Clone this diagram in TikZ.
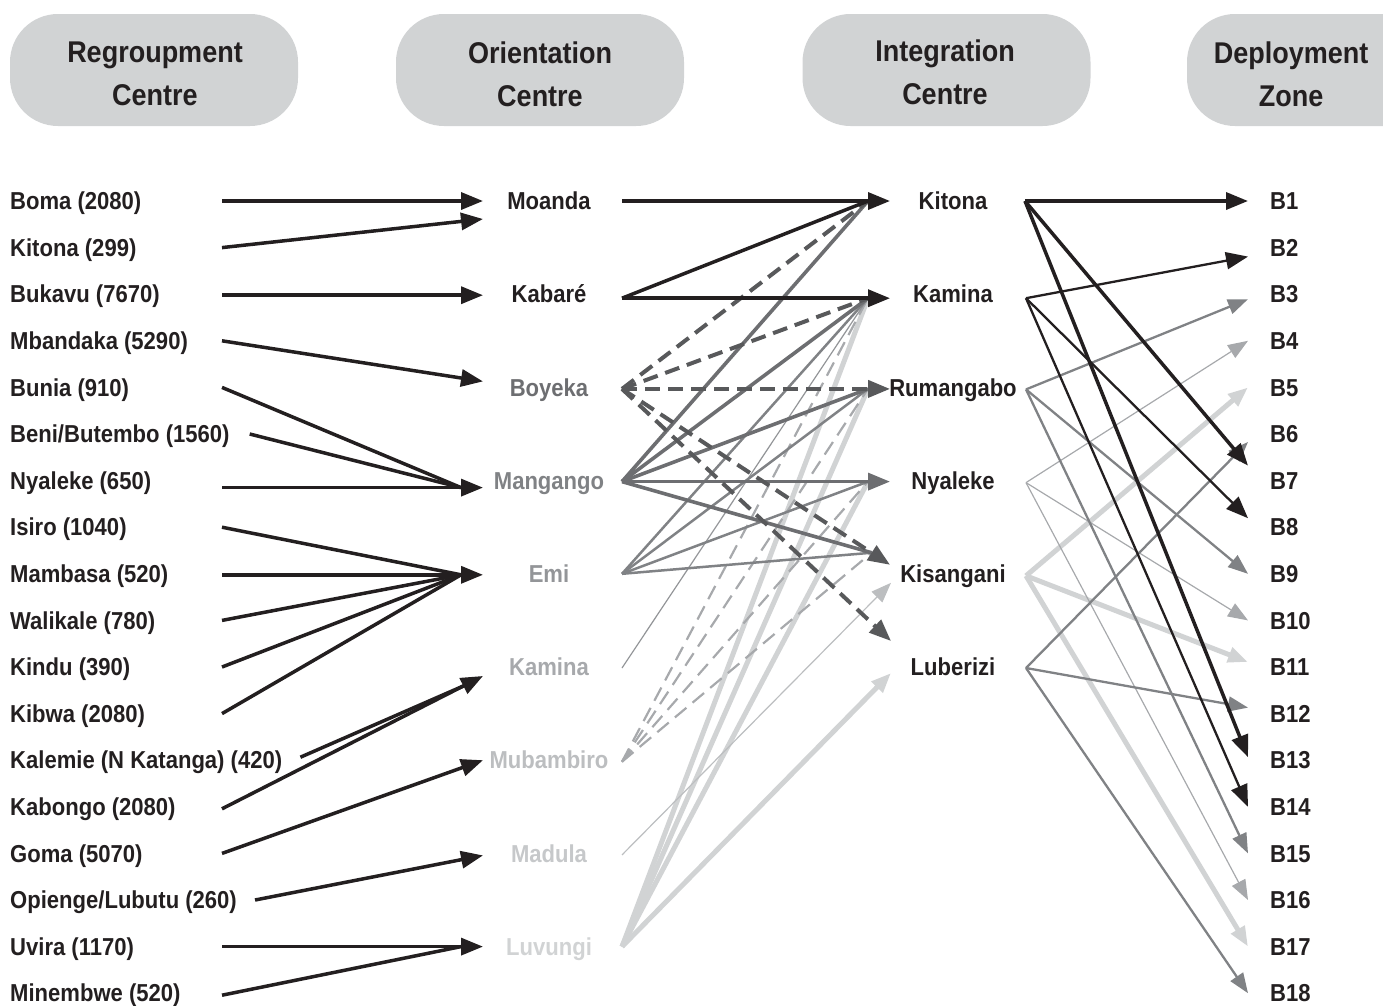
\documentclass[tikz,border=0pt]{standalone}
\usepackage{fontspec}
\setmainfont{Liberation Sans}[FakeStretch=0.9]
\usetikzlibrary{arrows.meta,calc}
\definecolor{ink}{HTML}{231F20}
\definecolor{g1}{HTML}{58595B}
\definecolor{g2}{HTML}{6D6E71}
\definecolor{g3}{HTML}{808285}
\definecolor{g4}{HTML}{939598}
\definecolor{g5}{HTML}{A7A9AC}
\definecolor{g6}{HTML}{BCBEC0}
\definecolor{g65}{HTML}{C6C8CA}
\definecolor{g7}{HTML}{D1D3D4}
\definecolor{hdrfill}{HTML}{D1D3D4}
\begin{document}
\begin{tikzpicture}[x=1pt,y=-1pt,
  lbl/.style={font=\fontsize{24.5}{28}\selectfont\bfseries, inner sep=0pt, text height=17.5pt, text depth=0pt, text=ink},
  hdrbox/.style={fill=hdrfill, rounded corners=48pt, minimum width=288pt, minimum height=112pt, inner sep=0pt},
  hdrtext/.style={font=\fontsize{30}{43}\selectfont\bfseries, align=center, text=ink, inner sep=0pt},
  tipL/.style={-{Triangle[length=22pt,width=17pt]}},
  tipS/.style={-{Triangle[length=20pt,width=15pt]}},
  lBlack/.style={draw=ink, line width=3.5pt},
  lBlackT/.style={draw=ink, line width=2.3pt},
  lBoy/.style={draw=g1, line width=4pt, dash pattern=on 15pt off 8pt},
  lMan/.style={draw=g2, line width=3.6pt},
  lEmi/.style={draw=g3, line width=2.5pt},
  lKam/.style={draw=g4, line width=1.2pt},
  lMub/.style={draw=g5, line width=2.2pt, dash pattern=on 15pt off 8pt},
  lMad/.style={draw=g6, line width=1.2pt},
  lLuv/.style={draw=g7, line width=5pt},
  lRum/.style={draw=g3, line width=2.3pt},
  lNya/.style={draw=g5, line width=1.2pt},
  lKis/.style={draw=g7, line width=5pt},
  lLub/.style={draw=g3, line width=2.3pt}
]
\useasboundingbox (0,0) rectangle (1383,1005);

% ---------- headers
\node[hdrbox] (h1) at (154,70) {};
\node[hdrtext] (h1t) at (155,74) {Regroupment\\Centre};
\node[hdrbox] (h2) at (540,70) {};
\node[hdrtext] (h2t) at (540,74) {Orientation\\Centre};
\node[hdrbox] (h3) at (946.5,70) {};
\node[hdrtext] (h3t) at (945,72) {Integration\\Centre};
\node[hdrbox] (h4) at (1331,70) {};
\node[hdrtext] (h4t) at (1291,74) {Deployment\\Zone};

% ---------- column 1
\node[lbl, anchor=west] (boma)     at (10,201)   {Boma (2080)};
\node[lbl, anchor=west] (kitonaR)  at (10,247.6) {Kitona (299)};
\node[lbl, anchor=west] (bukavu)   at (10,294.2) {Bukavu (7670)};
\node[lbl, anchor=west] (mbandaka) at (10,340.8) {Mbandaka (5290)};
\node[lbl, anchor=west] (bunia)    at (10,387.4) {Bunia (910)};
\node[lbl, anchor=west] (beni)     at (10,434)   {Beni/Butembo (1560)};
\node[lbl, anchor=west] (nyalekeR) at (10,480.6) {Nyaleke (650)};
\node[lbl, anchor=west] (isiro)    at (10,527.2) {Isiro (1040)};
\node[lbl, anchor=west] (mambasa)  at (10,573.8) {Mambasa (520)};
\node[lbl, anchor=west] (walikale) at (10,620.4) {Walikale (780)};
\node[lbl, anchor=west] (kindu)    at (10,667)   {Kindu (390)};
\node[lbl, anchor=west] (kibwa)    at (10,713.6) {Kibwa (2080)};
\node[lbl, anchor=west] (kalemie)  at (10,760.2) {Kalemie (N Katanga) (420)};
\node[lbl, anchor=west] (kabongo)  at (10,806.8) {Kabongo (2080)};
\node[lbl, anchor=west] (goma)     at (10,853.4) {Goma (5070)};
\node[lbl, anchor=west] (opienge)  at (10,900)   {Opienge/Lubutu (260)};
\node[lbl, anchor=west] (uvira)    at (10,946.6) {Uvira (1170)};
\node[lbl, anchor=west] (minembwe) at (10,993.2) {Minembwe (520)};

% ---------- column 2
\node[lbl]          (moanda)    at (549,201)   {Moanda};
\node[lbl]          (kabare)    at (549,294.2) {Kabaré};
\node[lbl, text=g2] (boyeka)    at (549,387.4) {Boyeka};
\node[lbl, text=g3] (mangango)  at (549,480.6) {Mangango};
\node[lbl, text=g4] (emi)       at (549,573.8) {Emi};
\node[lbl, text=g5] (kamina2)   at (549,667)   {Kamina};
\node[lbl, text=g6] (mubambiro) at (549,760.2) {Mubambiro};
\node[lbl, text=g65](madula)    at (549,853.4) {Madula};
\node[lbl, text=g7] (luvungi)   at (549,946.6) {Luvungi};

% ---------- column 3
\node[lbl] (kitona3)    at (953,201)   {Kitona};
\node[lbl] (kamina3)    at (953,294.2) {Kamina};
\node[lbl] (rumangabo3) at (953,387.4) {Rumangabo};
\node[lbl] (nyaleke3)   at (953,480.6) {Nyaleke};
\node[lbl] (kisangani3) at (953,573.8) {Kisangani};
\node[lbl] (luberizi3)  at (953,667)   {Luberizi};

% ---------- column 4
\foreach \i in {1,...,18}{
  \node[lbl, anchor=west] (b\i) at (1270,{201+46.6*(\i-1)}) {B\i};
}

% ---------- column 1 -> column 2
\coordinate (moIn)  at ([xshift=-66pt]moanda.center);
\coordinate (moIn2) at ([xshift=-66pt,yshift=-18pt]moanda.center);
\coordinate (kaIn)  at ([xshift=-66pt,yshift=-1pt]kabare.center);
\coordinate (boIn)  at ([xshift=-66pt,yshift=6pt]boyeka.center);
\coordinate (maIn)  at ([xshift=-66pt,yshift=-7pt]mangango.center);
\coordinate (maHub) at ([xshift=-88pt,yshift=-7pt]mangango.center);
\coordinate (emIn)  at ([xshift=-66pt,yshift=-1pt]emi.center);
\coordinate (emHub) at ([xshift=-88pt,yshift=-1pt]emi.center);
\coordinate (kmIn)  at ([xshift=-66pt,yshift=-9pt]kamina2.center);
\coordinate (kabS)  at ([xshift=212pt,yshift=-2pt]kabongo.west);
\coordinate (kmHub) at ($(kmIn)!22pt!(kabS)$);
\coordinate (muIn)  at ([xshift=-66pt]mubambiro.center);
\coordinate (mdIn)  at ([xshift=-66pt,yshift=-2pt]madula.center);
\coordinate (luIn)  at ([xshift=-66pt]luvungi.center);
\coordinate (luHub) at ([xshift=-88pt]luvungi.center);

\draw[lBlack, tipL] ([xshift=212pt]boma.west) -- (moIn);
\draw[lBlack, tipL] ([xshift=212pt]kitonaR.west) -- (moIn2);
\draw[lBlack, tipL] ([xshift=212pt,yshift=-1pt]bukavu.west) -- (kaIn);
\draw[lBlack, tipL] ([xshift=212pt]mbandaka.west) -- (boIn);
\draw[lBlack] ([xshift=212pt]bunia.west) -- (maHub);
\draw[lBlack] ([xshift=20pt]beni.east) -- (maHub);
\draw[lBlack, tipL] ([xshift=212pt,yshift=-7pt]nyalekeR.west) -- (maIn);
\draw[lBlack] ([xshift=212pt]isiro.west) -- (emHub);
\draw[lBlack, tipL] ([xshift=212pt,yshift=-1pt]mambasa.west) -- (emIn);
\draw[lBlack] ([xshift=212pt]walikale.west) -- (emHub);
\draw[lBlack] ([xshift=212pt]kindu.west) -- (emHub);
\draw[lBlack] ([xshift=212pt]kibwa.west) -- (emHub);
\draw[lBlack] ([xshift=18pt,yshift=3pt]kalemie.east) -- (kmHub);
\draw[lBlack, tipL] (kabS) -- (kmIn);
\draw[lBlack, tipL] ([xshift=212pt]goma.west) -- (muIn);
\draw[lBlack, tipL] ([xshift=18pt]opienge.east) -- (mdIn);
\draw[lBlack, tipL] ([xshift=212pt]uvira.west) -- (luIn);
\draw[lBlack] ([xshift=212pt,yshift=-2pt]minembwe.west) -- (luHub);

% ---------- column 2 -> column 3
\coordinate (moaOut) at ([xshift=73pt]moanda.center);
\coordinate (kabOut) at ([xshift=73pt,yshift=-4pt]kabare.center);
\coordinate (boyOut) at ([xshift=73pt,yshift=-1.5pt]boyeka.center);
\coordinate (manOut) at ([xshift=73pt,yshift=-1pt]mangango.center);
\coordinate (emiOut) at ([xshift=73pt]emi.center);
\coordinate (kamOut) at ([xshift=73pt,yshift=-1pt]kamina2.center);
\coordinate (mubOut) at ([xshift=73pt,yshift=-1.5pt]mubambiro.center);
\coordinate (madOut) at ([xshift=73pt,yshift=-1.5pt]madula.center);
\coordinate (luvOut) at ([xshift=73pt]luvungi.center);

\coordinate (kitIn)  at ([xshift=-63pt]kitona3.center);
\coordinate (kitHub) at ([xshift=-85pt]kitona3.center);
\coordinate (kamIn)  at ([xshift=-63pt,yshift=-4pt]kamina3.center);
\coordinate (kamHub) at ([xshift=-85pt,yshift=-4pt]kamina3.center);
\coordinate (rumIn)  at ([xshift=-63pt,yshift=-1.5pt]rumangabo3.center);
\coordinate (rumHub) at ([xshift=-85pt,yshift=-1.5pt]rumangabo3.center);
\coordinate (nyaIn)  at ([xshift=-63pt,yshift=-1pt]nyaleke3.center);
\coordinate (nyaHub) at ([xshift=-85pt,yshift=-1pt]nyaleke3.center);
\coordinate (kisIn)  at ([xshift=-63pt,yshift=9pt]kisangani3.center);
\coordinate (kisHub) at ($(kisIn)!22pt!(boyOut)$);
\coordinate (kisIn2) at ([xshift=-62pt,yshift=-9pt]kisangani3.center);
\coordinate (lubIn)  at ([xshift=-62pt,yshift=26pt]luberizi3.center);
\coordinate (lubIn2) at ([xshift=-62pt,yshift=-6pt]luberizi3.center);

\draw[lLuv] (luvOut) -- (kamHub);
\draw[lLuv] (luvOut) -- (rumHub);
\draw[lLuv] (luvOut) -- (nyaHub);
\draw[lLuv, tipS] (luvOut) -- (lubIn2);
\draw[lMad, tipS] (madOut) -- (kisIn2);
\draw[lMub] (mubOut) -- (kamHub);
\draw[lMub] (mubOut) -- (rumHub);
\draw[lMub] (mubOut) -- (nyaHub);
\draw[lMub] (mubOut) -- (kisHub);
\draw[lKam] (kamOut) -- (kamHub);
\draw[lEmi] (emiOut) -- (kamHub);
\draw[lEmi] (emiOut) -- (rumHub);
\draw[lEmi] (emiOut) -- (nyaHub);
\draw[lEmi] (emiOut) -- (kisHub);
\draw[lMan] (manOut) -- (kitHub);
\draw[lMan] (manOut) -- (kamHub);
\draw[lMan] (manOut) -- (rumHub);
\draw[lMan] (manOut) -- (kisHub);
\draw[lMan, tipL] (manOut) -- (nyaIn);
\draw[lBoy] (boyOut) -- (kitHub);
\draw[lBoy] (boyOut) -- (kamHub);
\draw[lBoy, tipL] (boyOut) -- (rumIn);
\draw[lBoy, tipL] (boyOut) -- (kisIn);
\draw[lBoy, tipL] (boyOut) -- (lubIn);
\draw[lBlack] (kabOut) -- (kitHub);
\draw[lBlack, tipL] (kabOut) -- (kamIn);
\draw[lBlack, tipL] (moaOut) -- (kitIn);

% ---------- column 3 -> column 4
\coordinate (kitOut) at ([xshift=72pt]kitona3.center);
\coordinate (kmOut)  at ([xshift=73pt,yshift=-4pt]kamina3.center);
\coordinate (rumOut) at ([xshift=73pt,yshift=-2pt]rumangabo3.center);
\coordinate (nyaOut) at ([xshift=73pt,yshift=-2pt]nyaleke3.center);
\coordinate (kisOut) at ([xshift=73pt,yshift=-2pt]kisangani3.center);
\coordinate (lubOut) at ([xshift=73pt,yshift=-1pt]luberizi3.center);

\draw[lKis, tipS] (kisOut) -- ([xshift=-22pt]b5.west);
\draw[lKis, tipS] (kisOut) -- ([xshift=-22pt,yshift=5pt]b11.west);
\draw[lKis, tipS] (kisOut) -- ([xshift=-22pt]b17.west);
\draw[lNya, tipS] (nyaOut) -- ([xshift=-22pt]b4.west);
\draw[lNya, tipS] (nyaOut) -- ([xshift=-22pt]b10.west);
\draw[lNya, tipS] (nyaOut) -- ([xshift=-22pt]b16.west);
\draw[lRum, tipS] (rumOut) -- ([xshift=-22pt,yshift=-5pt]b3.west);
\draw[lRum, tipS] (rumOut) -- ([xshift=-22pt]b9.west);
\draw[lRum, tipS] (rumOut) -- ([xshift=-22pt]b15.west);
\draw[lLub, tipS] (lubOut) -- ([xshift=-22pt,yshift=-8pt]b6.west);
\draw[lLub, tipS] (lubOut) -- ([xshift=-22pt,yshift=6pt]b12.west);
\draw[lLub, tipS] (lubOut) -- ([xshift=-22pt]b18.west);
\draw[lBlackT, tipL] (kmOut) -- ([xshift=-22pt,yshift=-9pt]b2.west);
\draw[lBlackT, tipL] (kmOut) -- ([xshift=-22pt,yshift=9pt]b8.west);
\draw[lBlackT, tipL] (kmOut) -- ([xshift=-22pt]b14.west);
\draw[lBlack, tipL] (kitOut) -- ([xshift=-22pt]b1.west);
\draw[lBlack, tipL] (kitOut) -- ([xshift=-22pt,yshift=15pt]b7.west);
\draw[lBlack, tipL] (kitOut) -- ([xshift=-22pt,yshift=3pt]b13.west);
\end{tikzpicture}
\end{document}
